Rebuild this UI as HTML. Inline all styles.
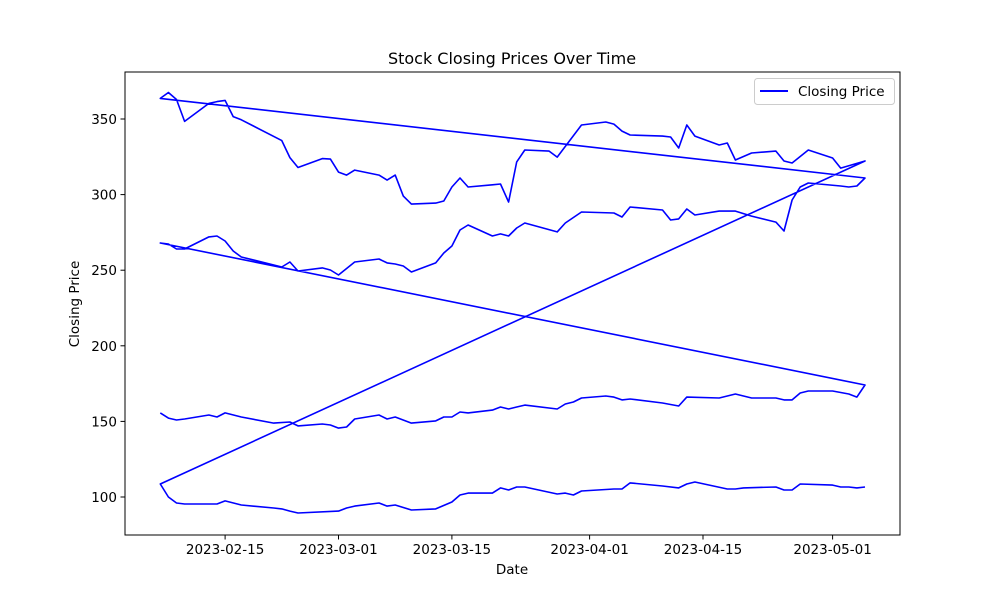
<!DOCTYPE html>
<html><head><meta charset="utf-8"><style>
body{margin:0;background:#fff;}
svg text{font-family:"DejaVu Sans","Liberation Sans",sans-serif;fill:#000;}
</style></head><body>
<svg id="chart" width="1000" height="600" xmlns="http://www.w3.org/2000/svg">
<rect width="1000" height="600" fill="#fff"/>
<text x="512" y="64" font-size="16" text-anchor="middle">Stock Closing Prices Over Time</text>
<g id="plot"></g>
<rect x="125" y="72" width="775" height="463" fill="none" stroke="#000" stroke-width="1"/>
<g id="xticks"></g>
<g id="yticks"></g>
<text x="512" y="574" font-size="13.5" text-anchor="middle">Date</text>
<text x="0" y="0" font-size="13.5" text-anchor="middle" transform="translate(79,304) rotate(-90)">Closing Price</text>
<g>
<rect x="754.5" y="78.5" width="140" height="26" rx="3" fill="#fff" stroke="#ccc"/>
<line x1="760" y1="91" x2="788" y2="91" stroke="#0000ff" stroke-width="2"/>
<text x="798" y="96" font-size="13.5">Closing Price</text>
</g>
</svg>
<script>
// day offsets from 2023-02-07
const s1Days=[0,1,2,3,6,7,8,10,14,16,17,20,21,22,23,24,27,28,29,31,34,35,36,37,38,41,42,43,44,45,49,50,51,52,55,56,57,58,62,64,65,69,71,73,76,77,78,79,80,83,85,86,87];
const s1Vals=[155.6,152.2,150.9,151.6,154.2,152.9,155.6,152.9,148.9,149.6,147.0,148.3,147.6,145.6,146.3,151.6,154.2,151.6,152.9,148.9,150.3,152.9,152.9,156.2,155.6,157.5,159.5,158.2,159.5,160.8,158.2,161.5,162.8,165.5,166.8,166.1,164.2,164.8,162.2,160.2,166.1,165.5,168.1,165.5,165.5,164.2,164.2,168.8,170.1,170.1,168.1,166.1,174.1];
const s2Days=[0,1,2,3,6,7,8,9,10,15,16,17,20,21,22,24,27,28,29,30,31,34,35,36,37,38,41,42,43,44,45,49,50,52,56,57,58,62,63,64,65,66,69,71,73,76,77,78,79,80,84,85,86,87];
const s2Vals=[268.0,267.3,264.0,264.0,272.0,272.6,269.3,262.7,258.7,252.1,255.4,249.5,251.5,250.1,246.8,255.4,257.4,254.8,254.1,252.8,248.8,254.8,261.4,266.0,276.6,279.9,272.6,274.0,272.6,277.9,281.2,275.3,281.2,288.5,287.8,285.2,291.8,289.8,283.2,283.9,290.5,286.5,289.1,289.1,285.8,281.8,275.9,296.4,305.0,307.7,305.7,305.0,305.7,311.0];
const s3Days=[0,1,2,3,6,7,8,9,10,15,16,17,20,21,22,23,24,27,28,29,30,31,34,35,36,37,38,41,42,43,44,45,48,49,52,55,56,57,58,62,63,64,65,66,69,70,71,73,76,77,78,80,83,84,87];
const s3Vals=[363.6,367.5,362.9,348.4,360.3,361.5,362.3,351.6,349.5,335.7,324.5,317.9,323.8,323.5,314.9,312.9,316.2,312.9,309.6,312.9,299.0,293.7,294.4,295.8,305.0,311.0,305.0,306.5,307.0,295.1,321.6,329.5,328.8,324.8,346.0,348.0,346.6,342.0,339.4,338.7,338.1,330.8,346.0,338.7,332.8,334.1,322.9,327.5,328.8,322.2,320.9,329.5,324.2,317.5,322.2];
const s4Days=[0,1,2,3,7,8,10,14,15,16,17,22,23,24,27,28,29,31,34,36,37,38,41,42,43,44,45,49,50,51,52,56,57,58,62,64,65,66,70,71,72,76,77,78,79,83,84,85,86,87];
const s4Vals=[108.6,100.0,96.0,95.4,95.4,97.4,94.7,92.7,92.1,90.7,89.4,90.7,92.7,94.0,96.0,94.0,94.7,91.4,92.1,96.7,101.3,102.6,102.6,106.0,104.6,106.6,106.6,102.0,102.6,101.3,104.0,105.3,105.3,109.3,107.3,106.0,108.6,109.9,105.3,105.3,106.0,106.6,104.6,104.6,108.6,107.9,106.6,106.6,106.0,106.6];
const yTicks=[100,150,200,250,300,350];
const xTickLabels=["2023-02-15","2023-03-01","2023-03-15","2023-04-01","2023-04-15","2023-05-01"];
const xTickDays=[8,22,36,53,67,83];

const NS="http://www.w3.org/2000/svg";
const xScale=d=>160.3+d*8.1;
const yScale=v=>497-(v-100)*1.512;

const series=[[s1Days,s1Vals],[s2Days,s2Vals],[s3Days,s3Vals],[s4Days,s4Vals]];
let pts=[];
series.forEach(([ds,vs])=>{ds.forEach((d,i)=>pts.push(xScale(d).toFixed(1)+","+yScale(vs[i]).toFixed(1)));});
const line=document.createElementNS(NS,"polyline");
line.setAttribute("points",pts.join(" "));
line.setAttribute("fill","none");
line.setAttribute("stroke","#0000ff");
line.setAttribute("stroke-width","1.6");
line.setAttribute("stroke-linejoin","round");


document.getElementById("plot").appendChild(line);

const xg=document.getElementById("xticks");
xTickDays.forEach((d,i)=>{
  const x=xScale(d);
  const t=document.createElementNS(NS,"line");
  t.setAttribute("x1",x);t.setAttribute("x2",x);t.setAttribute("y1",535);t.setAttribute("y2",539.5);
  t.setAttribute("stroke","#000");
  
  
  xg.appendChild(t);
  const l=document.createElementNS(NS,"text");
  l.setAttribute("x",x);l.setAttribute("y",554);l.setAttribute("font-size","13.5");l.setAttribute("text-anchor","middle");
  l.textContent=xTickLabels[i];
  
  
  xg.appendChild(l);
});
const yg=document.getElementById("yticks");
yTicks.forEach(v=>{
  const y=yScale(v);
  const t=document.createElementNS(NS,"line");
  t.setAttribute("x1",120.5);t.setAttribute("x2",125);t.setAttribute("y1",y);t.setAttribute("y2",y);
  t.setAttribute("stroke","#000");
  
  
  yg.appendChild(t);
  const l=document.createElementNS(NS,"text");
  l.setAttribute("x",117);l.setAttribute("y",y+5);l.setAttribute("font-size","13.5");l.setAttribute("text-anchor","end");
  l.textContent=v;
  
  
  yg.appendChild(l);
});
</script>
</body></html>
